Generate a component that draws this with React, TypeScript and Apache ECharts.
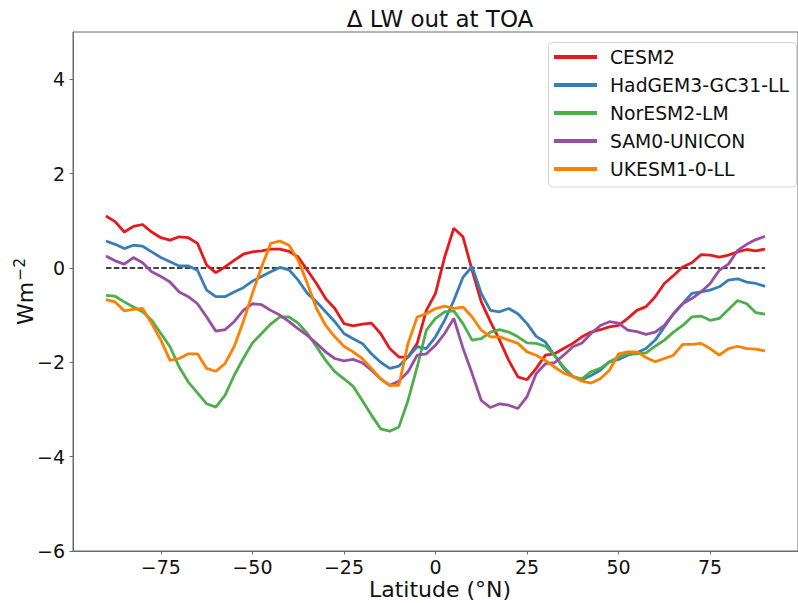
import React, { useEffect, useRef } from 'react';
import * as echarts from 'echarts';

const latitudes = [
  -90, -87.5, -85, -82.5, -80, -77.5, -75, -72.5, -70, -67.5, -65, -62.5, -60, -57.5, -55, -52.5,
  -50, -47.5, -45, -42.5, -40, -37.5, -35, -32.5, -30, -27.5, -25, -22.5, -20, -17.5, -15, -12.5,
  -10, -7.5, -5, -2.5, 0, 2.5, 5, 7.5, 10, 12.5, 15, 17.5, 20, 22.5, 25, 27.5, 30, 32.5, 35, 37.5,
  40, 42.5, 45, 47.5, 50, 52.5, 55, 57.5, 60, 62.5, 65, 67.5, 70, 72.5, 75, 77.5, 80, 82.5, 85, 87.5, 90,
];

const cesm2 = [
  1.10, 0.98, 0.76, 0.88, 0.92, 0.76, 0.64, 0.59, 0.66, 0.64, 0.52, 0.06, -0.10, 0.02, 0.16, 0.29,
  0.34, 0.36, 0.40, 0.40, 0.35, 0.23, -0.05, -0.33, -0.65, -0.86, -1.18, -1.23, -1.19, -1.17, -1.39, -1.71,
  -1.89, -1.89, -1.60, -0.90, -0.54, 0.23, 0.84, 0.66, -0.05, -0.72, -1.14, -1.53, -1.96, -2.31, -2.37, -2.13,
  -1.85, -1.82, -1.71, -1.60, -1.46, -1.36, -1.31, -1.25, -1.22, -1.07, -0.90, -0.82, -0.61, -0.33, -0.16, 0.02,
  0.11, 0.28, 0.27, 0.23, 0.27, 0.34, 0.39, 0.36, 0.40,
];

const hadgem3 = [
  0.57, 0.50, 0.41, 0.48, 0.46, 0.34, 0.22, 0.13, 0.04, 0.04, -0.05, -0.47, -0.61, -0.61, -0.51, -0.42,
  -0.28, -0.18, -0.08, 0.01, -0.04, -0.26, -0.54, -0.72, -0.93, -1.14, -1.39, -1.50, -1.60, -1.82, -2.00, -2.13,
  -2.08, -1.89, -1.67, -1.71, -1.46, -1.11, -0.69, -0.20, 0.03, -0.54, -0.90, -0.93, -0.86, -0.97, -1.18, -1.45,
  -1.57, -1.85, -2.13, -2.30, -2.37, -2.28, -2.17, -1.99, -1.94, -1.85, -1.80, -1.71, -1.53, -1.25, -0.97, -0.76,
  -0.54, -0.51, -0.47, -0.40, -0.26, -0.23, -0.30, -0.33, -0.39,
];

const noresm2 = [
  -0.58, -0.60, -0.72, -0.83, -0.93, -1.11, -1.39, -1.67, -2.10, -2.42, -2.65, -2.88, -2.95, -2.70, -2.28, -1.92,
  -1.59, -1.39, -1.19, -1.04, -1.04, -1.17, -1.39, -1.67, -1.96, -2.20, -2.35, -2.51, -2.81, -3.12, -3.41, -3.46,
  -3.37, -2.81, -2.10, -1.32, -1.07, -0.93, -0.91, -1.18, -1.53, -1.50, -1.36, -1.31, -1.36, -1.46, -1.59, -1.60,
  -1.66, -1.85, -2.10, -2.31, -2.35, -2.20, -2.13, -1.99, -1.89, -1.82, -1.82, -1.80, -1.66, -1.53, -1.36, -1.22,
  -1.04, -1.02, -1.11, -1.07, -0.88, -0.69, -0.76, -0.95, -0.98,
];

const sam0 = [
  0.25, 0.15, 0.08, 0.22, 0.11, -0.08, -0.18, -0.30, -0.51, -0.61, -0.76, -1.04, -1.34, -1.31, -1.14, -0.90,
  -0.76, -0.78, -0.90, -1.00, -1.14, -1.29, -1.43, -1.60, -1.78, -1.92, -1.97, -1.94, -2.01, -2.17, -2.35, -2.49,
  -2.40, -2.20, -1.85, -1.82, -1.64, -1.39, -1.07, -1.70, -2.24, -2.81, -2.96, -2.88, -2.91, -2.98, -2.73, -2.24,
  -2.03, -2.01, -1.85, -1.67, -1.59, -1.39, -1.22, -1.14, -1.17, -1.32, -1.35, -1.41, -1.36, -1.22, -0.97, -0.76,
  -0.65, -0.51, -0.33, -0.05, 0.08, 0.37, 0.50, 0.60, 0.67,
];

const ukesm1 = [
  -0.67, -0.72, -0.91, -0.88, -0.86, -1.18, -1.53, -1.96, -1.92, -1.82, -1.82, -2.13, -2.19, -2.03, -1.67, -1.14,
  -0.54, 0.02, 0.52, 0.57, 0.48, 0.16, -0.33, -0.86, -1.22, -1.46, -1.66, -1.78, -1.92, -2.13, -2.35, -2.49,
  -2.49, -1.60, -1.04, -0.97, -0.86, -0.81, -0.86, -0.83, -1.04, -1.32, -1.46, -1.46, -1.53, -1.60, -1.78, -1.85,
  -1.96, -2.10, -2.23, -2.30, -2.40, -2.44, -2.35, -2.17, -1.82, -1.78, -1.78, -1.90, -1.99, -1.92, -1.85, -1.62,
  -1.62, -1.60, -1.71, -1.85, -1.71, -1.66, -1.71, -1.72, -1.76,
];

const modelNames = ['CESM2', 'HadGEM3-GC31-LL', 'NorESM2-LM', 'SAM0-UNICON', 'UKESM1-0-LL'];
const modelValues = [cesm2, hadgem3, noresm2, sam0, ukesm1];
const modelColors = ['#e41a1c', '#377eb8', '#4daf4a', '#984ea3', '#ff7f00'];

const xTicks = [-75, -50, -25, 0, 25, 50, 75];
const yTicks = [-6, -4, -2, 0, 2, 4];
const zeroLineExtent = [-90, 90];

const FONT = 'DejaVu Sans';
const SPINE = '#6b6b6b';
const fmt = (v: number) => String(v).replace('-', '\u2212');

export default function App() {
  const ref = useRef<HTMLDivElement>(null);
  useEffect(() => {
    if (!ref.current) return;
    const chart = echarts.init(ref.current, null, { renderer: 'svg' });
    const lineSeries = modelNames.map((name, i) => ({
      name,
      type: 'line',
      data: latitudes.map((lat, j) => [lat, modelValues[i][j]]),
      showSymbol: false,
      symbol: 'none',
      smooth: false,
      lineStyle: { color: modelColors[i], width: 2.8 },
      itemStyle: { color: modelColors[i] },
      z: 2,
    }));
    chart.setOption({
      animation: false,
      backgroundColor: '#ffffff',
      textStyle: { fontFamily: FONT },
      grid: {
        left: 73,
        top: 32,
        width: 734,
        height: 519,
        show: true,
        borderColor: SPINE,
        borderWidth: 1,
        backgroundColor: 'transparent',
      },
      xAxis: {
        type: 'value',
        min: -99,
        max: 99,
        axisLine: { show: true, onZero: false, lineStyle: { color: SPINE, width: 1 } },
        axisTick: { show: true, customValues: xTicks, length: 3.5, lineStyle: { color: SPINE } },
        axisLabel: {
          customValues: xTicks,
          formatter: fmt,
          fontSize: 19,
          color: '#111',
          margin: 6,
          fontFamily: FONT,
        },
        splitLine: { show: false },
      },
      yAxis: {
        type: 'value',
        min: -6,
        max: 5,
        axisLine: { show: true, onZero: false, lineStyle: { color: SPINE, width: 1 } },
        axisTick: { show: true, customValues: yTicks, length: 3.5, lineStyle: { color: SPINE } },
        axisLabel: {
          customValues: yTicks,
          formatter: fmt,
          fontSize: 19,
          color: '#111',
          margin: 8,
          fontFamily: FONT,
        },
        splitLine: { show: false },
      },
      legend: {
        data: modelNames.map((name) => ({ name, icon: 'rect' })),
        orient: 'vertical',
        left: 554,
        top: 47.5,
        padding: 0,
        itemWidth: 43,
        itemHeight: 4,
        itemGap: 9,
        z: 6,
        textStyle: {
          fontSize: 18.8,
          lineHeight: 19,
          color: '#111',
          fontFamily: FONT,
          padding: [0, 0, 0, 8],
        },
      },
      graphic: [
        {
          type: 'rect',
          z: 5,
          shape: { x: 548.5, y: 42.5, width: 248, height: 144.5, r: 4 },
          style: { fill: 'rgba(255,255,255,0.8)', stroke: '#d4d4d4', lineWidth: 1 },
        },
        {
          type: 'text',
          x: 440,
          y: 19,
          style: {
            text: '\u0394 LW out at TOA',
            fontSize: 23,
            fontFamily: FONT,
            fill: '#111',
            align: 'center',
            verticalAlign: 'middle',
          },
        },
        {
          type: 'text',
          x: 440,
          y: 589.4,
          style: {
            text: 'Latitude (\u00b0N)',
            fontSize: 22,
            fontFamily: FONT,
            fill: '#111',
            align: 'center',
            verticalAlign: 'middle',
          },
        },
        {
          type: 'text',
          x: 25.7,
          y: 291.5,
          rotation: Math.PI / 2,
          style: {
            text: '{a|Wm}{b|\u22122}',
            fontFamily: FONT,
            fill: '#111',
            align: 'center',
            verticalAlign: 'middle',
            rich: {
              a: { fontSize: 22, lineHeight: 22, fontFamily: FONT, fill: '#111' },
              b: { fontSize: 15.5, lineHeight: 15.5, padding: [0, 0, 12, 1], fontFamily: FONT, fill: '#111' },
            },
          },
        },
      ],
      series: [
        ...lineSeries,
        {
          name: 'zero',
          type: 'line',
          data: zeroLineExtent.map((x) => [x, 0]),
          showSymbol: false,
          symbol: 'none',
          lineStyle: { color: '#000', width: 1.5, type: [5.5, 2.4] },
          z: 1,
          silent: true,
        },
      ],
    });
    return () => chart.dispose();
  }, []);
  return (
    <div
      ref={ref}
      style={{ position: 'fixed', left: 0, top: 0, width: 798, height: 603, background: '#fff' }}
    />
  );
}
